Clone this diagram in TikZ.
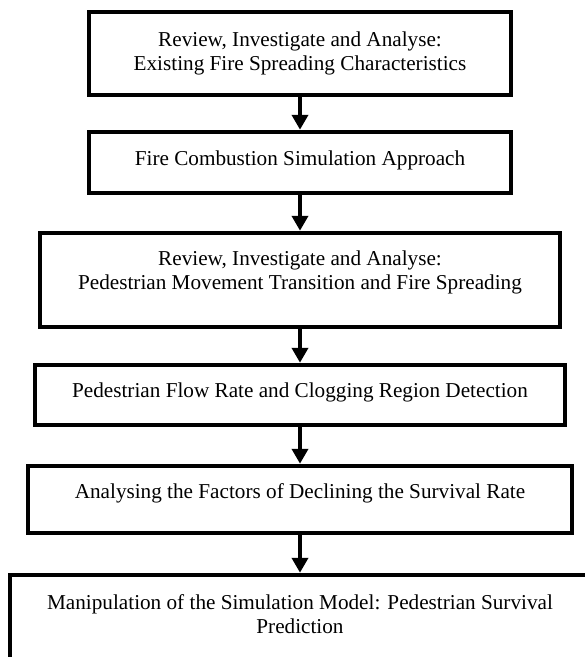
\documentclass[tikz,border=0pt]{standalone}
\usepackage{fontspec}
\setmainfont{Liberation Serif}
\usetikzlibrary{arrows.meta}
\tikzset{
  stagebox/.style={draw=black, line width=4.5pt, rectangle, inner sep=0pt, fill=none},
  stagetext/.style={font=\fontsize{21.2}{24}\selectfont, align=center, inner sep=0pt, anchor=center},
  flowarrow/.style={-{Triangle[width=16pt,length=15pt]}, line width=4.5pt, black}
}
\begin{document}
\begin{tikzpicture}[x=1pt,y=1pt]
\useasboundingbox (0,0) rectangle (585,-657);
\clip (0,0) rectangle (585,-657);
\fill[white] (0,0) rectangle (585,-657);
\node[stagebox, minimum width=422, minimum height=83] (b1) at (300,-53.5) {};
\node[stagebox, minimum width=422, minimum height=61] (b2) at (300,-162.5) {};
\node[stagebox, minimum width=520, minimum height=94] (b3) at (300,-280) {};
\node[stagebox, minimum width=530, minimum height=60] (b4) at (300,-395) {};
\node[stagebox, minimum width=544, minimum height=67] (b5) at (300,-499.5) {};
\node[stagebox, minimum width=590, minimum height=88] (b6) at (305,-619) {};
\node[stagetext] (t1) at (300,-53) {Review, Investigate and Analyse:\\Existing Fire Spreading Characteristics};
\node[stagetext] (t2) at (300,-160) {Fire Combustion Simulation Approach};
\node[stagetext] (t3) at (300,-272) {Review, Investigate and Analyse:\\Pedestrian Movement Transition and Fire Spreading};
\node[stagetext] (t4) at (300,-392) {Pedestrian Flow Rate and Clogging Region Detection};
\node[stagetext] (t5) at (300,-493) {Analysing the Factors of Declining the Survival Rate};
\node[stagetext] (t6) at (300,-614) {Manipulation of the Simulation Model: Pedestrian Survival\\Prediction};
\draw[flowarrow] (b1.south) -- (b2.north);
\draw[flowarrow] (b2.south) -- (b3.north);
\draw[flowarrow] (b3.south) -- (b4.north);
\draw[flowarrow] (b4.south) -- (b5.north);
\draw[flowarrow] (b5.south) -- (b6.north -| b5.south);
\end{tikzpicture}
\end{document}
